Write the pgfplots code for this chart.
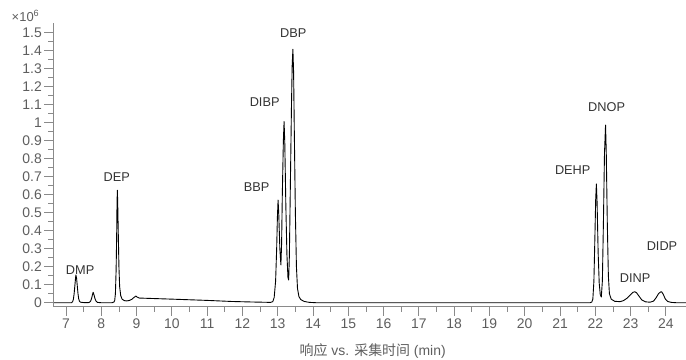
\documentclass[border=0pt]{standalone}
\usepackage{fontspec}
\setmainfont{Liberation Sans}
\newfontfamily\cjk{Noto Sans CJK SC}
\usepackage{pgfplots}
\pgfplotsset{compat=1.18}
\definecolor{axisgray}{HTML}{8A8A8A}
\definecolor{labelgray}{HTML}{5E5E5E}
\definecolor{annot}{HTML}{333333}
\begin{document}
\begin{tikzpicture}
\useasboundingbox (-53.3bp,-53.3bp) rectangle (632.7bp,306.7bp);
\begin{axis}[at={(0,0)}, anchor=south west, scale only axis,
  width=632.7bp, height=283.4bp,
  xmin=6.64, xmax=24.57, ymin=-0.022, ymax=1.552,
  clip=false,
  axis x line*=bottom, axis y line*=left,
  axis line style={draw=axisgray, line width=0.8pt},
  xtick={7,8,9,10,11,12,13,14,15,16,17,18,19,20,21,22,23,24},
  ytick={0,0.1,0.2,0.3,0.4,0.5,0.6,0.7,0.8,0.9,1,1.1,1.2,1.3,1.4,1.5},
  minor x tick num=1, minor y tick num=1,
  tick align=outside, major tick length=9bp, minor tick length=5bp,
  every tick/.style={axisgray, line width=0.8pt},
  /pgf/number format/assume math mode=true,
  ticklabel style={color=labelgray, font=\fontsize{14}{16}\selectfont},
  yticklabel style={xshift=1bp},
  xlabel={{\cjk 响应} vs. {\cjk 采集时间} (min)},
  x label style={at={(axis description cs:0.5,0)}, anchor=center, yshift=-44bp, xshift=3bp,
    color=labelgray, font=\fontsize{14}{16}\selectfont},
]
\addplot[black, line width=0.9pt, line join=round] coordinates {
(6.66,0) (7.15,0) (7.17,0.002) (7.19,0.007) (7.21,0.020) (7.23,0.050) (7.25,0.093)
(7.27,0.136) (7.28,0.154) (7.30,0.136) (7.32,0.093) (7.34,0.050) (7.36,0.022)
(7.38,0.009) (7.41,0.003) (7.50,0.001) (7.64,0.001) (7.67,0.003) (7.70,0.010)
(7.73,0.027) (7.75,0.045) (7.77,0.058) (7.79,0.046) (7.82,0.024) (7.85,0.009)
(7.89,0.002) (8.00,0) (8.30,0) (8.36,0.004) (8.38,0.012) (8.40,0.050) (8.42,0.180)
(8.435,0.360) (8.445,0.540) (8.455,0.625) (8.465,0.560) (8.48,0.400) (8.50,0.200)
(8.52,0.090) (8.55,0.040) (8.59,0.020) (8.65,0.012) (8.72,0.010) (8.80,0.013)
(8.87,0.020) (8.93,0.030) (8.98,0.037) (9.02,0.031) (9.08,0.026) (10.0,0.020)
(11.0,0.013) (11.7,0.007) (12.3,0.004) (12.80,0.002) (12.86,0.006) (12.90,0.030)
(12.94,0.120) (12.97,0.300) (12.99,0.470) (13.01,0.570) (13.03,0.490) (13.06,0.300)
(13.09,0.210) (13.11,0.330) (13.13,0.600) (13.16,0.900) (13.18,1.006) (13.20,0.890)
(13.23,0.540) (13.26,0.270) (13.29,0.140) (13.31,0.126) (13.33,0.260) (13.36,0.680)
(13.39,1.100) (13.41,1.320) (13.43,1.408) (13.45,1.280) (13.47,0.950) (13.50,0.500)
(13.53,0.200) (13.56,0.080) (13.60,0.035) (13.65,0.018) (13.75,0.007) (13.90,0.002)
(14.10,0) (21.85,0) (21.90,0.004) (21.93,0.020) (21.96,0.120) (21.99,0.380)
(22.01,0.570) (22.03,0.660) (22.05,0.560) (22.08,0.280) (22.11,0.110) (22.14,0.045)
(22.17,0.032) (22.20,0.120) (22.23,0.450) (22.26,0.830) (22.29,0.987) (22.31,0.840)
(22.34,0.440) (22.37,0.150) (22.40,0.050) (22.45,0.020) (22.55,0.008) (22.70,0.006)
(22.80,0.012) (22.90,0.025) (23.00,0.045) (23.07,0.058) (23.12,0.061) (23.17,0.055)
(23.24,0.036) (23.32,0.015) (23.42,0.005) (23.55,0.003) (23.65,0.009) (23.72,0.027)
(23.79,0.050) (23.85,0.060) (23.88,0.061) (23.93,0.045) (23.98,0.022) (24.05,0.007)
(24.15,0.002) (24.30,0) (24.57,0)
};
\begin{scope}[every node/.style={color=annot, font=\fontsize{12.8}{14}\selectfont, anchor=center}]
\node at (axis cs:7.40,0.180) {DMP};
\node at (axis cs:8.44,0.695) {DEP};
\node at (axis cs:12.40,0.644) {BBP};
\node at (axis cs:12.63,1.117) {DIBP};
\node at (axis cs:13.44,1.498) {DBP};
\node at (axis cs:21.36,0.737) {DEHP};
\node at (axis cs:22.32,1.084) {DNOP};
\node at (axis cs:23.13,0.137) {DINP};
\node at (axis cs:23.89,0.315) {DIDP};
\end{scope}
\node[color=labelgray, font=\fontsize{13}{14}\selectfont, anchor=center]
  at (rel axis cs:0,1) [xshift=-27.8bp, yshift=7.3bp] {×10\textsuperscript{6}};
\end{axis}
\end{tikzpicture}
\end{document}
